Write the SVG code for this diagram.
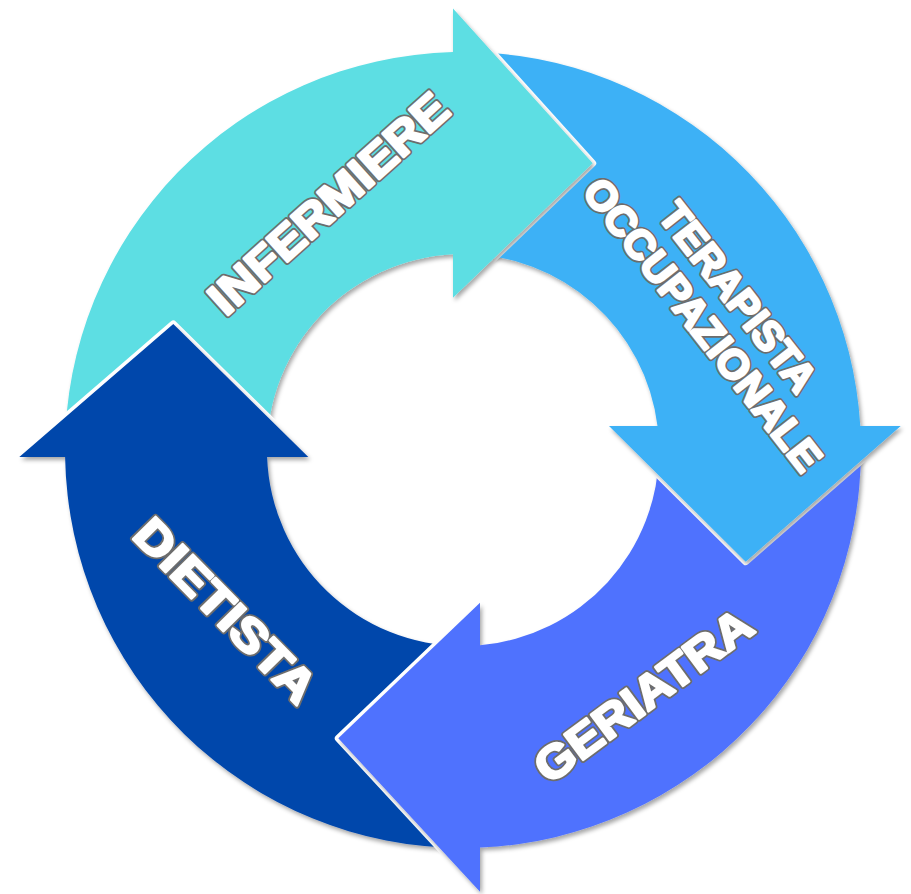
<svg xmlns="http://www.w3.org/2000/svg" width="911" height="894" viewBox="0 0 911 894">
<style>
  .lbl { font-family: "Liberation Sans", Arial, sans-serif; font-weight: bold; text-anchor: middle; }
  .o { fill: #6d6d6d; stroke: #6d6d6d; stroke-width: 6; stroke-linejoin: round; }
  .f { fill: #ffffff; stroke: #ffffff; stroke-width: 2.6; stroke-linejoin: round; }
  .arrow { filter: url(#sh); }
</style>
<defs>
  <filter id="sh" x="-10%" y="-10%" width="120%" height="120%">
    <feDropShadow dx="2" dy="3" stdDeviation="2" flood-color="#000" flood-opacity="0.35"/>
  </filter>
  <mask id="mI" maskUnits="userSpaceOnUse" x="0" y="0" width="911" height="894">
    <rect width="911" height="894" fill="#fff"/>
    <polygon points="19.3,457 173.3,324 308.3,457" fill="#000" stroke="#000" stroke-width="7" stroke-linejoin="round"/>
  </mask>
  <mask id="mT" maskUnits="userSpaceOnUse" x="0" y="0" width="911" height="894">
    <rect width="911" height="894" fill="#fff"/>
    <polygon points="453,8.5 592.7,163.3 453,297.7" fill="#000" stroke="#000" stroke-width="7" stroke-linejoin="round"/>
  </mask>
  <mask id="mG" maskUnits="userSpaceOnUse" x="0" y="0" width="911" height="894">
    <rect width="911" height="894" fill="#fff"/>
    <polygon points="900.7,426 745.7,561.7 609,426" fill="#000" stroke="#000" stroke-width="7" stroke-linejoin="round"/>
  </mask>
  <mask id="mD" maskUnits="userSpaceOnUse" x="0" y="0" width="911" height="894">
    <rect width="911" height="894" fill="#fff"/>
    <polygon points="480,891.7 338.3,738.3 480,602.7" fill="#000" stroke="#000" stroke-width="7" stroke-linejoin="round"/>
  </mask>
</defs>
<rect width="911" height="894" fill="#ffffff"/>

<g id="node-infermiere">
  <g mask="url(#mI)">
    <path class="arrow" fill="#5DDEE3" d="M65,450 A398,398 0 0 1 453,52.1 L453,8.5 L592.7,163.3 L453,297.7 L453,254.3 A196,196 0 0 0 267,450 Z"/>
  </g>
  <g class="lbl" font-size="46" transform="translate(328,203) rotate(-42)">
    <text class="o" x="0" y="16.5" textLength="305" lengthAdjust="spacingAndGlyphs">INFERMIERE</text>
    <text class="f" x="0" y="16.5" textLength="305" lengthAdjust="spacingAndGlyphs">INFERMIERE</text>
  </g>
</g>

<g id="node-terapista">
  <g mask="url(#mT)">
    <path class="arrow" fill="#3EB1F6" d="M463,52 A398,398 0 0 1 860.3,426 L900.7,426 L745.7,561.7 L609,426 L657.5,426 A196,196 0 0 0 463,254 Z"/>
  </g>
  <g class="lbl" font-size="41" transform="translate(720.75,310.5) rotate(52)">
    <text class="o" x="0" y="-7.8" textLength="228" lengthAdjust="spacingAndGlyphs">TERAPISTA</text>
    <text class="f" x="0" y="-7.8" textLength="228" lengthAdjust="spacingAndGlyphs">TERAPISTA</text>
    <text class="o" x="0" y="37.2" textLength="359" lengthAdjust="spacingAndGlyphs">OCCUPAZIONALE</text>
    <text class="f" x="0" y="37.2" textLength="359" lengthAdjust="spacingAndGlyphs">OCCUPAZIONALE</text>
  </g>
</g>

<g id="node-geriatra">
  <g mask="url(#mG)">
    <path class="arrow" fill="#5072FE" d="M861,450 A398,398 0 0 1 480,847.6 L480,891.7 L338.3,738.3 L480,602.7 L480,645.3 A196,196 0 0 0 659,450 Z"/>
  </g>
  <g class="lbl" font-size="46" transform="translate(643,695) rotate(-36.5)">
    <text class="o" x="0" y="16.5" textLength="258" lengthAdjust="spacingAndGlyphs">GERIATRA</text>
    <text class="f" x="0" y="16.5" textLength="258" lengthAdjust="spacingAndGlyphs">GERIATRA</text>
  </g>
</g>

<g id="node-dietista">
  <g mask="url(#mD)">
    <path class="arrow" fill="#0047AB" d="M463,848 A398,398 0 0 1 65.1,457 L19.3,457 L173.3,324 L308.3,457 L267.1,457 A196,196 0 0 0 463,646 Z"/>
  </g>
  <g class="lbl" font-size="46" transform="translate(226,610) rotate(45.5)">
    <text class="o" x="0" y="16.5" textLength="238" lengthAdjust="spacingAndGlyphs">DIETISTA</text>
    <text class="f" x="0" y="16.5" textLength="238" lengthAdjust="spacingAndGlyphs">DIETISTA</text>
  </g>
</g>
</svg>
